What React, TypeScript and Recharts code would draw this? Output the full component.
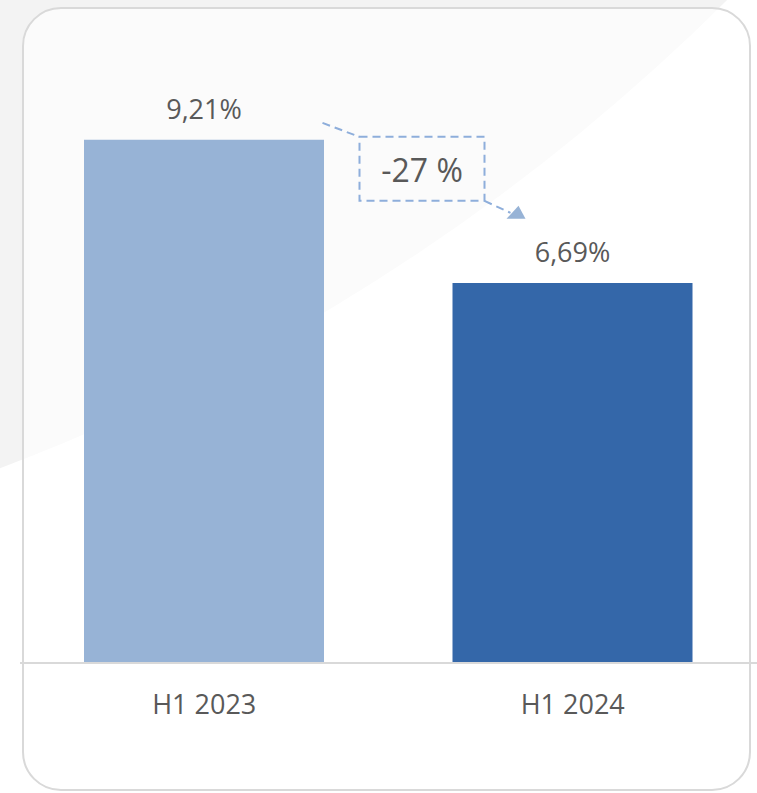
import { BarChart, Bar, XAxis, YAxis, Cell, LabelList } from 'recharts';

// data
const periods = ['H1 2023', 'H1 2024'];
const rates = [9.21, 6.69];
const barColors = ['#97b3d6', '#3467a9'];
const yMax = 10;

const chartData = periods.map((period, i) => ({ period, rate: rates[i] }));

const W = 757;
const H = 793;
const margin = { top: 95, right: 0, left: 20, bottom: 70 };
const axisHeight = 60;
const plotBottom = H - margin.bottom - axisHeight;
const plotHeight = plotBottom - margin.top;
const plotWidth = W - margin.left - margin.right;
const band = plotWidth / periods.length;

const yOf = (v: number) => plotBottom - (v / yMax) * plotHeight;
const xOf = (i: number) => margin.left + band * (i + 0.5);

const textColor = '#595959';
const font = '"Open Sans", "Liberation Sans", sans-serif';

const fmt = (v: number) => v.toFixed(2).replace('.', ',') + '%';

const CategoryTick = ({ x, y, payload }: any) => (
  <text x={x} y={y + 51} textAnchor="middle" fill={textColor} fontSize={27} fontFamily={font}>
    {payload.value}
  </text>
);

const ValueLabel = ({ x, y, width, value }: any) => (
  <text x={x + width / 2} y={y - 21} textAnchor="middle" fill={textColor} fontSize={27} fontFamily={font}>
    {fmt(value)}
  </text>
);

// change annotation between the two bars
function ChangeCallout() {
  const change = Math.round(((rates[1] - rates[0]) / rates[0]) * 100);
  const left = (xOf(0) + xOf(1)) / 2 - 29;
  const top = yOf(rates[0]) - 3;
  const boxW = 125;
  const boxH = 64;
  const right = left + boxW;
  const bottom = top + boxH;
  const dash = { stroke: '#8eaedb', strokeWidth: 2, strokeDasharray: '8 5', fill: 'none' };
  return (
    <svg width={W} height={H} style={{ position: 'absolute', left: 0, top: 0, pointerEvents: 'none' }}>
      <line x1={left - 37} y1={top - 14} x2={left} y2={top} {...dash} />
      <rect x={left} y={top} width={boxW} height={boxH} {...dash} />
      <line x1={right} y1={bottom} x2={right + 26} y2={bottom + 12} {...dash} />
      <polygon
        points={`${right + 22},${bottom + 18} ${right + 41},${bottom + 18} ${right + 34},${bottom + 5}`}
        fill="#97b3d6"
      />
      <text
        x={left + boxW / 2}
        y={top + 45}
        textAnchor="middle"
        fill={textColor}
        fontSize={32}
        fontFamily={font}
      >
        {`${change} %`}
      </text>
    </svg>
  );
}

function Backdrop() {
  return (
    <svg width={W} height={H} style={{ position: 'absolute', left: 0, top: 0 }}>
      <rect x={0} y={0} width={W} height={H} fill="#ffffff" />
      <circle cx={-728} cy={-1461} r={2062} fill="#f3f3f3" />
      <rect
        x={23}
        y={8}
        width={727}
        height={782}
        rx={38}
        ry={38}
        fill="#ffffff"
        fillOpacity={0.62}
        stroke="#d9d9d9"
        strokeWidth={2}
      />
    </svg>
  );
}

export default function App() {
  return (
    <div style={{ position: 'absolute', left: 0, top: 0, width: W, height: H, overflow: 'hidden' }}>
      <Backdrop />
      <div style={{ position: 'absolute', left: 0, top: 0 }}>
        <BarChart width={W} height={H} data={chartData} margin={margin}>
          <XAxis
            dataKey="period"
            height={axisHeight}
            axisLine={{ stroke: '#d9d9d9', strokeWidth: 2 }}
            tickLine={false}
            tickSize={0}
            tickMargin={0}
            tick={<CategoryTick />}
            interval={0}
          />
          <YAxis hide domain={[0, yMax]} />
          <Bar dataKey="rate" barSize={240} isAnimationActive={false}>
            {chartData.map((d, i) => (
              <Cell key={d.period} fill={barColors[i]} />
            ))}
            <LabelList dataKey="rate" content={<ValueLabel />} />
          </Bar>
        </BarChart>
      </div>
      <ChangeCallout />
    </div>
  );
}
